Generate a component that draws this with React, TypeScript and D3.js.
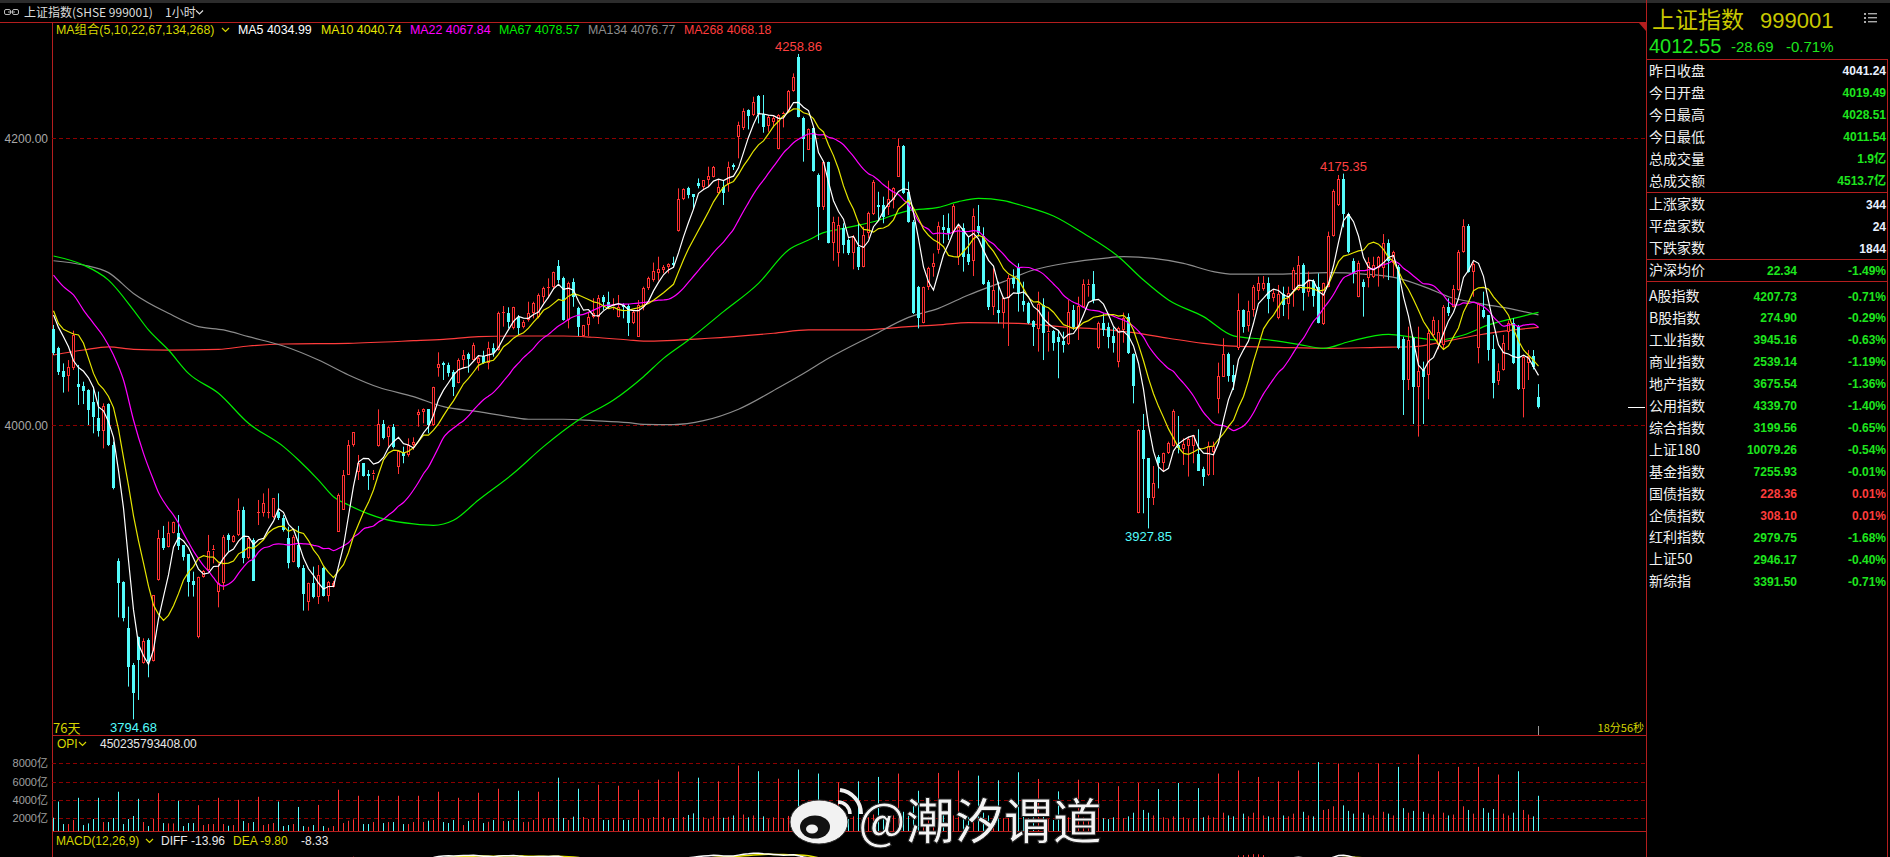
import React from 'react';
import * as d3 from 'd3';

// ---------- DATA ----------
const OPEN = [
4066.7,4053.5,4037.7,4034.2,4039.5,4028.6,4027.4,4024.4,4016.3,4005.1,
3996.0,4014.6,3986.0,3905.1,3890.7,3858.6,3832.6,3852.4,3833.8,3850.0,
3835.6,3891.9,3921.4,3915.1,3924.9,3924.9,3916.3,3909.8,3891.2,3851.9,
3894.2,3898.9,3912.3,3883.7,3889.6,3923.3,3918.6,3923.3,3940.7,3907.0,
3919.8,3938.4,3938.4,3938.4,3936.1,3939.5,3934.9,3921.0,3904.7,3916.3,
3900.0,3876.8,3889.6,3880.3,3900.0,3880.7,3887.2,3925.6,3940.7,3965.1,
3986.0,3967.4,3973.3,3965.8,3965.1,3985.4,4000.5,3991.9,3998.4,3970.9,
3981.4,3979.1,3986.0,4007.0,4008.8,4010.9,4000.0,4039.5,4043.0,4041.9,
4037.2,4029.5,4045.3,4049.5,4045.3,4043.0,4048.1,4043.5,4053.5,4052.3,
4077.9,4078.4,4067.4,4075.6,4068.1,4073.2,4078.4,4075.1,4089.5,4095.3,
4096.5,4110.9,4102.3,4073.2,4100.0,4081.4,4062.1,4069.8,4075.1,4075.6,
4089.1,4086.0,4082.5,4075.6,4083.7,4083.0,4070.9,4061.6,4082.0,4095.3,
4101.1,4105.8,4108.1,4110.4,4113.3,4135.5,4157.4,4165.1,4161.1,4169.0,
4165.8,4170.9,4173.2,4162.0,4166.2,4168.1,4181.4,4201.1,4206.9,4219.7,
4216.2,4229.5,4216.9,4208.6,4211.6,4192.3,4216.2,4218.6,4233.2,4256.9,
4213.9,4191.8,4206.9,4174.4,4152.3,4183.7,4127.2,4119.7,4137.2,4129.0,
4119.7,4124.4,4110.4,4133.7,4147.2,4153.5,4153.5,4152.3,4156.9,4173.2,
4194.6,4162.7,4141.8,4096.5,4071.4,4096.5,4110.4,4122.0,4138.3,4137.6,
4134.9,4117.4,4137.2,4119.3,4114.6,4138.8,4131.8,4100.0,4082.5,4080.2,
4077.9,4088.4,4102.3,4110.0,4086.7,4084.9,4072.8,4066.7,4083.7,4064.4,
4065.8,4061.6,4058.8,4056.5,4080.2,4068.6,4082.5,4097.0,4098.3,4053.5,
4070.9,4068.1,4062.1,4044.2,4066.3,4075.6,4049.5,3938.4,3996.5,3976.7,
3948.8,3977.9,3973.3,3980.2,3985.4,3986.0,3983.0,3985.4,3985.4,3979.8,
3969.1,3965.1,3981.4,4017.9,4033.7,4049.5,4034.9,4053.5,4080.2,4069.1,
4080.2,4093.7,4094.6,4098.8,4088.4,4074.4,4091.4,4084.4,4094.2,4094.2,
4111.6,4093.0,4100.7,4096.5,4070.4,4096.5,4131.8,4153.5,4171.4,4147.2,
4114.6,4089.5,4100.0,4102.3,4103.0,4109.3,4109.3,4127.2,4112.8,4110.4,
4059.8,4031.4,4060.5,4026.3,4038.4,4034.9,4062.8,4055.8,4055.8,4082.5,
4082.5,4094.2,4120.9,4138.8,4107.0,4053.5,4080.2,4076.7,4052.8,4030.9,
4038.4,4065.1,4070.9,4069.1,4024.9,4043.0,4048.1,4019.49];

const HIGH = [
4069.8,4054.6,4043.0,4045.3,4065.8,4041.9,4030.2,4024.9,4026.7,4023.3,
4015.1,4015.1,3988.4,3907.0,3891.0,3873.3,3834.0,3852.4,3851.2,3851.2,
3881.4,3926.8,3929.6,3932.6,3932.6,3937.2,3916.3,3909.8,3897.7,3894.2,
3898.8,3923.3,3916.3,3903.5,3923.3,3924.4,3923.3,3948.8,3943.0,3921.6,
3921.0,3947.7,3952.3,3955.8,3948.8,3952.3,3937.2,3929.1,3923.3,3929.6,
3902.3,3890.0,3901.2,3902.3,3901.2,3891.2,3891.2,3952.3,3968.6,3989.5,
3994.9,3979.1,3973.3,3968.6,3968.6,4010.9,4003.5,3999.3,4000.7,3982.6,
3984.9,3990.7,3991.4,4010.9,4011.6,4010.9,4026.7,4050.7,4044.2,4043.5,
4038.4,4046.5,4052.3,4050.5,4057.4,4048.8,4051.8,4058.1,4057.0,4079.1,
4083.0,4082.1,4082.5,4076.7,4073.2,4086.0,4086.0,4091.8,4096.5,4102.3,
4107.0,4115.1,4103.5,4100.0,4102.3,4082.5,4069.8,4079.1,4088.4,4090.7,
4090.7,4093.0,4088.4,4090.7,4084.9,4084.4,4080.2,4087.2,4096.5,4103.5,
4113.3,4117.4,4111.6,4112.8,4117.4,4165.1,4165.1,4166.2,4161.1,4172.0,
4170.9,4180.2,4180.7,4170.9,4170.9,4183.7,4182.5,4211.6,4220.9,4220.2,
4229.0,4230.2,4230.2,4216.2,4216.2,4216.9,4218.6,4233.7,4245.3,4258.86,
4215.1,4206.9,4208.1,4175.5,4183.7,4183.7,4145.3,4145.3,4140.7,4130.2,
4132.5,4140.7,4138.3,4148.8,4170.9,4162.7,4159.3,4170.4,4165.8,4200.0,
4195.3,4169.7,4143.0,4097.0,4096.5,4110.4,4119.7,4141.8,4146.5,4147.6,
4154.1,4139.5,4140.7,4131.8,4151.1,4153.5,4137.9,4101.1,4109.3,4100.0,
4089.5,4104.6,4108.6,4112.8,4100.0,4086.0,4073.2,4093.0,4088.4,4079.1,
4066.3,4066.3,4065.1,4087.2,4083.7,4089.5,4101.6,4101.6,4107.4,4072.1,
4077.9,4071.4,4068.1,4068.6,4078.4,4077.9,4050.0,3997.0,4007.7,3976.7,
3971.4,3979.1,3980.7,3988.4,4010.9,4006.3,3990.7,3991.9,3993.0,3997.0,
3970.9,3988.4,3988.4,4043.5,4060.5,4050.5,4041.9,4091.8,4080.7,4086.7,
4097.7,4103.5,4103.9,4103.0,4094.2,4097.7,4096.5,4096.5,4110.0,4117.9,
4112.8,4107.0,4101.6,4105.8,4099.3,4134.9,4164.4,4174.4,4175.35,4148.1,
4116.3,4114.6,4101.6,4117.0,4117.4,4117.9,4133.2,4129.5,4121.6,4111.6,
4061.6,4068.6,4061.2,4068.6,4044.2,4066.3,4075.6,4073.2,4083.7,4088.4,
4097.7,4122.1,4143.5,4140.2,4113.9,4085.3,4093.0,4076.7,4062.8,4043.0,
4062.8,4072.8,4074.4,4069.8,4048.8,4052.3,4052.3,4028.51];

const LOW = [
4048.8,4034.9,4022.6,4023.3,4038.4,4014.0,4014.6,4000.0,3994.2,3991.9,
3983.7,3985.3,3955.1,3865.8,3863.0,3817.5,3794.68,3808.2,3833.5,3824.0,
3835.0,3891.4,3912.8,3914.6,3924.4,3912.8,3905.4,3880.3,3880.3,3851.2,
3893.5,3898.4,3903.5,3872.8,3884.9,3911.6,3918.0,3922.6,3903.5,3906.3,
3891.4,3930.2,3936.1,3934.9,3934.9,3933.7,3925.6,3900.0,3904.2,3900.0,
3870.5,3870.5,3879.1,3875.1,3880.3,3876.8,3886.7,3925.6,3940.7,3965.1,
3984.9,3961.6,3964.0,3954.7,3961.6,3984.9,3990.0,3984.9,3983.7,3965.8,
3973.3,3977.9,3982.6,3998.8,4001.2,3994.2,3999.3,4033.7,4031.4,4033.7,
4020.2,4029.1,4039.5,4036.5,4044.9,4037.9,4042.6,4038.8,4047.7,4051.8,
4068.6,4067.4,4066.7,4062.8,4067.4,4072.1,4074.4,4074.4,4085.3,4088.4,
4094.2,4098.8,4072.8,4067.4,4082.5,4062.1,4061.6,4062.1,4074.4,4070.4,
4080.2,4081.4,4080.2,4075.1,4074.4,4062.1,4070.4,4061.6,4080.0,4094.2,
4100.0,4100.7,4105.8,4105.8,4110.4,4134.9,4156.9,4158.1,4150.5,4165.1,
4163.9,4166.2,4172.7,4161.6,4153.5,4162.7,4177.9,4186.0,4205.8,4206.2,
4215.5,4210.4,4203.9,4204.6,4207.6,4192.3,4207.6,4217.9,4232.5,4214.6,
4183.7,4191.8,4176.7,4129.0,4150.0,4126.7,4114.6,4110.4,4119.7,4118.6,
4108.6,4108.1,4110.0,4130.2,4146.5,4143.0,4140.7,4146.5,4151.1,4173.2,
4161.1,4141.1,4077.4,4067.4,4070.9,4094.2,4103.5,4119.5,4126.7,4129.0,
4133.7,4111.6,4107.0,4111.6,4103.9,4131.4,4097.7,4080.2,4076.7,4070.9,
4067.4,4055.1,4095.3,4079.1,4079.1,4070.4,4055.1,4051.2,4045.3,4051.2,
4051.8,4032.6,4050.5,4055.8,4066.3,4059.3,4082.1,4089.5,4084.9,4052.8,
4062.1,4053.5,4050.5,4040.2,4057.4,4049.5,4015.1,3938.4,3938.4,3927.85,
3944.2,3955.8,3967.4,3979.8,3984.9,3980.2,3972.1,3964.0,3973.3,3968.1,
3957.5,3964.4,3965.1,4008.1,4033.7,4030.2,4024.4,4052.3,4064.4,4065.1,
4075.6,4087.2,4093.7,4077.9,4086.0,4073.7,4076.0,4073.7,4082.5,4093.7,
4079.8,4089.5,4082.5,4070.9,4069.8,4096.0,4131.4,4152.8,4137.9,4119.7,
4098.8,4089.1,4075.6,4096.0,4102.5,4096.5,4102.3,4101.1,4103.5,4052.8,
4007.0,4024.4,4000.7,3991.9,4000.7,4017.9,4061.6,4052.8,4052.8,4076.0,
4082.1,4093.7,4120.2,4106.3,4089.5,4043.0,4074.4,4044.9,4018.6,4027.9,
4037.9,4052.3,4042.5,4024.4,4005.3,4031.4,4038.8,4011.54];

const CLOSE = [
4050.0,4037.2,4033.2,4040.7,4062.8,4026.7,4023.9,4010.5,4005.8,3996.0,
4013.3,3986.0,3955.8,3890.0,3865.1,3831.4,3812.8,3836.1,3849.6,3835.6,
3881.4,3921.0,3914.0,3924.9,3932.6,3915.6,3908.2,3890.7,3888.4,3894.2,
3898.4,3912.1,3913.3,3889.6,3922.1,3919.8,3922.6,3940.7,3907.0,3921.0,
3891.4,3939.5,3945.4,3939.5,3948.8,3934.9,3926.8,3903.5,3922.1,3901.2,
3882.1,3889.6,3880.3,3895.4,3880.7,3890.7,3889.6,3951.2,3965.1,3986.0,
3994.9,3973.3,3964.4,3964.4,3966.8,4000.5,3990.7,3998.8,3984.9,3982.1,
3978.4,3986.0,3988.4,4008.8,4010.9,4000.0,4026.3,4042.6,4041.9,4036.5,
4026.7,4045.3,4048.8,4045.8,4055.8,4046.5,4043.0,4053.5,4050.0,4077.9,
4079.1,4072.1,4082.1,4067.4,4072.1,4078.4,4085.3,4090.7,4095.3,4096.5,
4107.0,4101.1,4073.2,4099.3,4089.5,4068.6,4069.8,4075.6,4078.4,4088.4,
4086.0,4082.5,4083.7,4082.5,4082.5,4070.9,4079.1,4083.7,4095.3,4102.3,
4107.4,4108.6,4110.4,4112.3,4111.6,4157.4,4164.4,4160.4,4159.3,4166.7,
4170.9,4173.7,4180.2,4166.2,4161.6,4180.2,4179.7,4209.3,4219.2,4215.5,
4225.5,4216.9,4207.6,4215.1,4213.9,4216.2,4217.9,4233.2,4243.0,4215.1,
4199.3,4206.2,4177.4,4152.3,4183.7,4127.2,4141.8,4139.5,4125.6,4119.7,
4131.4,4110.4,4132.5,4147.6,4169.7,4152.3,4145.3,4157.4,4165.1,4194.6,
4161.6,4141.8,4077.9,4074.4,4096.0,4109.3,4113.3,4139.0,4136.0,4133.7,
4152.8,4138.3,4117.4,4113.9,4145.8,4133.7,4098.3,4082.5,4094.2,4077.9,
4088.4,4102.3,4098.3,4091.8,4083.7,4070.9,4068.1,4084.4,4063.9,4065.8,
4057.4,4058.1,4055.8,4079.1,4068.6,4083.0,4098.3,4098.3,4087.2,4071.4,
4066.3,4061.6,4057.0,4067.4,4074.4,4050.0,4027.2,3996.5,3976.1,3948.8,
3959.3,3973.3,3980.2,3987.2,4010.0,3983.7,3986.7,3990.0,3993.0,3968.1,
3964.0,3985.4,3985.4,4034.2,4049.5,4034.2,4030.2,4080.2,4068.1,4079.8,
4096.5,4099.3,4098.8,4087.7,4091.8,4091.4,4083.7,4092.3,4108.1,4111.6,
4092.3,4100.7,4090.0,4071.4,4098.8,4131.8,4163.4,4171.4,4147.2,4120.9,
4106.3,4113.3,4096.0,4113.9,4111.6,4117.4,4126.7,4114.6,4120.9,4053.5,
4031.4,4059.3,4026.7,4037.9,4033.7,4064.4,4073.2,4065.1,4082.5,4077.9,
4094.6,4120.9,4138.8,4107.0,4112.3,4084.9,4075.6,4052.3,4029.1,4037.9,
4057.4,4070.9,4043.0,4024.9,4047.2,4048.1,4040.2,4012.55];

// hourly turnover, 亿
const VOLUME = [
2050,3820,1360,1360,1800,4230,1250,1430,1910,4230,
1580,1580,2020,4890,1360,1910,2240,4120,1580,1140,
1910,4740,1470,1430,1430,3900,1140,1470,1470,3420,
1250,1360,1360,4230,1360,1170,1250,4010,1690,1470,
1580,4340,1250,1360,1470,3820,1140,1250,1360,3230,
1140,1060,1250,3450,1140,950,1140,5110,1470,1720,
1870,4450,1360,1360,1580,4450,1470,1580,1580,4450,
1360,1360,1580,4450,1580,1720,1800,4890,1580,1470,
1800,4230,1250,1690,1800,4780,1470,1610,1800,5220,
1690,1690,1800,5000,1580,1610,1800,4890,1910,2020,
2020,6430,2020,1800,2170,5220,2130,1910,2020,5660,
1800,1800,2020,5550,1800,1800,2020,5110,1910,1910,
2130,6210,2130,1910,2020,7100,2130,2350,2530,6430,
2100,1950,2200,6030,2050,2150,2300,7760,2400,2100,
2300,7135,2200,1900,2100,6320,2000,2250,2600,7320,
2900,2300,2500,6880,2600,2900,2400,5920,2100,1900,
2200,6030,2300,2100,2400,6510,2000,2100,2300,6880,
2700,2400,3300,5000,2500,2200,2300,6950,2400,2100,
2300,7210,2500,2100,2400,6650,2600,2300,2200,6140,
2000,2300,2100,7020,2200,2000,2100,6290,2200,1900,
1800,4930,1900,2100,1900,6210,2100,1800,2000,5850,
2000,1900,2100,5500,2000,2200,2600,5850,2900,2600,
2300,5180,2100,1900,2200,5850,2100,1900,2000,5290,
2100,2300,2100,6880,2600,2300,2200,7210,2500,2200,
2600,6510,2300,2200,2100,6030,2300,2200,2500,7210,
2700,2300,2200,8130,2900,3000,3300,7980,3400,2800,
2500,7020,2600,2400,2300,7980,2700,2500,2300,7610,
3100,2600,2800,8970,2700,2500,2400,7130,2600,2300,
2400,7610,3300,2900,2500,7610,3100,2600,3000,6770,
2500,2300,2600,7130,2900,2400,2200,4450];

// moving-average values read where the window reaches before the visible range
const MA5_LEAD = [4076.7, 4068.1, 4061.6, 4054.6];
const MA10_LEAD = [4079.7, 4070.9, 4066.7, 4065.1, 4063.5, 4062.8, 4057.0, 4046.5, 4036.0];
const MA22_LEAD: [number, number][] = [[0,4104.6],[2,4096.5],[4,4090.7],[6,4080.2],[8,4070.9],[10,4061.6],[12,4048.8],[14,4031.4],[16,4003.5],[18,3980.2],[20,3961.6]];
const MA67_PTS: [number, number][] = [[0,4117.9],[6,4111.6],[11,4101.1],[16,4080.2],[19,4066.3],[23,4052.3],[27,4036.0],[33,4022.1],[39,4001.2],[46,3984.9],[49,3975.6],[53,3961.6],[56,3950.0],[59,3944.2],[63,3938.0],[66,3934.5],[72,3931.0],[76,3930.0],[80,3933.5],[85,3947.7],[92,3966.3],[98,3984.9],[105,4003.5],[112,4017.4],[118,4033.7],[122,4046.5],[127,4059.3],[134,4079.1],[141,4098.8],[147,4122.1],[151,4129.0],[154,4134.2],[157,4136.5],[164,4141.8],[171,4149.5],[177,4151.8],[181,4155.8],[185,4158.1],[190,4156.5],[194,4152.8],[200,4145.8],[206,4133.7],[213,4117.4],[218,4101.1],[223,4087.2],[230,4075.6],[236,4062.2],[242,4059.8],[249,4056.3],[254,4053.5],[259,4058.1],[267,4063.2],[272,4061.2],[277,4059.3],[282,4062.8],[287,4069.8],[292,4074.4],[297,4078.57]];
const MA134_PTS: [number, number][] = [[0,4114.6],[6,4111.6],[11,4106.3],[16,4091.8],[23,4077.9],[29,4068.6],[34,4066.3],[39,4061.6],[46,4055.1],[53,4045.3],[59,4034.9],[65,4026.3],[72,4019.8],[78,4012.8],[85,4009.3],[92,4005.3],[95,4004.0],[102,4004.0],[108,4003.0],[115,4001.6],[118,4000.5],[124,4000.3],[130,4003.0],[137,4011.0],[145,4026.0],[150,4036.0],[155,4046.5],[164,4062.8],[171,4075.1],[177,4081.4],[183,4090.7],[190,4100.0],[196,4108.1],[203,4113.2],[210,4116.3],[214,4117.4],[220,4116.3],[226,4112.8],[232,4107.0],[236,4105.2],[245,4105.3],[255,4106.3],[262,4105.3],[269,4102.3],[275,4095.3],[279,4089.5],[285,4084.9],[292,4080.7],[297,4076.77]];
const MA268_PTS: [number, number][] = [[0,4048.8],[6,4052.3],[11,4054.5],[16,4052.8],[23,4052.3],[33,4052.8],[39,4055.1],[46,4056.5],[59,4057.0],[72,4058.8],[78,4059.8],[85,4061.6],[92,4062.1],[102,4062.1],[108,4061.2],[115,4059.3],[118,4058.5],[131,4060.5],[144,4064.0],[151,4066.3],[161,4066.3],[171,4068.6],[177,4069.8],[183,4071.4],[193,4070.9],[203,4068.1],[210,4066.7],[216,4064.4],[223,4060.5],[230,4057.0],[236,4055.0],[245,4054.2],[255,4053.5],[265,4054.2],[272,4054.6],[279,4058.8],[285,4062.8],[292,4066.3],[297,4068.18]];

const PRICE_TICKS = [4000, 4200];
const VOL_TICKS = [2000, 4000, 6000, 8000];
const MARK_HIGH = [149, 258];
const MARK_LOW = [16, 219];

const MA_LEGEND = [
  { t: 'MA5 4034.99', c: '#ffffff', x: 238 },
  { t: 'MA10 4040.74', c: '#e6e600', x: 321 },
  { t: 'MA22 4067.84', c: '#ff00ff', x: 410 },
  { t: 'MA67 4078.57', c: '#00ee00', x: 499 },
  { t: 'MA134 4076.77', c: '#8c8c8c', x: 588 },
  { t: 'MA268 4068.18', c: '#ff3c3c', x: 684 },
];

const QUOTE_LABELS = ['昨日收盘', '今日开盘', '今日最高', '今日最低', '总成交量', '总成交额'];
const QUOTE_VALUES = ['4041.24', '4019.49', '4028.51', '4011.54', '1.9亿', '4513.7亿'];
const BREADTH_LABELS = ['上涨家数', '平盘家数', '下跌家数'];
const BREADTH_VALUES = ['344', '24', '1844'];
const INDEX_NAMES = ['A股指数', 'B股指数', '工业指数', '商业指数', '地产指数', '公用指数', '综合指数', '上证180', '基金指数', '国债指数', '企债指数', '红利指数', '上证50', '新综指'];
const INDEX_VALUES = ['4207.73', '274.90', '3945.16', '2539.14', '3675.54', '4339.70', '3199.56', '10079.26', '7255.93', '228.36', '308.10', '2979.75', '2946.17', '3391.50'];
const INDEX_PCTS = ['-0.71%', '-0.29%', '-0.63%', '-1.19%', '-1.36%', '-1.40%', '-0.65%', '-0.54%', '-0.01%', '0.01%', '0.01%', '-1.68%', '-0.40%', '-0.71%'];

// ---------- STYLE ----------
const RED = '#ff3232';
const CYAN = '#54fcfc';
const FRAME = '#b41e1e';
const GRID = '#8c0000';
const YEL = '#d6d600';
const GREEN = '#1ee61e';
const FONT = '"Liberation Sans", Arial, "Noto Sans CJK SC", sans-serif';
const CJK = '"Noto Sans CJK SC", "Liberation Sans", sans-serif';

const N = CLOSE.length;
const X0 = 52, X1 = 1646;
const MAIN_TOP = 22, MAIN_BOT = 735, VOL_BOT = 831;

function movingAverage(n: number, lead: [number, number][]): [number, number][] {
  const out: [number, number][] = [...lead];
  for (let i = n - 1; i < N; i++) {
    out.push([i, d3.mean(CLOSE.slice(i - n + 1, i + 1)) as number]);
  }
  return out;
}
function ema(arr: number[], n: number): number[] {
  const k = 2 / (n + 1);
  const out: number[] = [];
  arr.forEach((v, i) => out.push(i === 0 ? v : v * k + out[i - 1] * (1 - k)));
  return out;
}

const Chevron = ({ x, y, c }: { x: number; y: number; c: string }) => (
  <path d={`M${x},${y} l3.5,3.5 l3.5,-3.5`} fill="none" stroke={c} strokeWidth={1.2} />
);

export default function App() {
  const x = d3.scaleLinear().domain([0, N - 1]).range([53.5, 53.5 + 5 * (N - 1)]);
  const y = d3.scaleLinear().domain([4000, 4200]).range([425, 138.3]);
  const yVol = d3.scaleLinear().domain([2000, 8000]).range([818.2, 763.3]);

  const ma5 = movingAverage(5, MA5_LEAD.map((v, i) => [i, v] as [number, number]));
  const ma10 = movingAverage(10, MA10_LEAD.map((v, i) => [i, v] as [number, number]));
  const ma22 = movingAverage(22, MA22_LEAD);

  const lineLin = d3.line<[number, number]>().x(d => x(d[0])).y(d => y(d[1]));
  const lineSmooth = d3.line<[number, number]>().x(d => x(d[0])).y(d => y(d[1])).curve(d3.curveMonotoneX);

  const e12 = ema(CLOSE, 12), e26 = ema(CLOSE, 26);
  const diff = CLOSE.map((_, i) => e12[i] - e26[i]);
  const dea = ema(diff, 9);
  const hist = diff.map((d, i) => 2 * (d - dea[i]));
  const yM = d3.scaleLinear().domain([22, 42]).range([857, 848]);
  const lineM = d3.line<number>().x((_, i) => x(i)).y(d => yM(d));

  const candles = CLOSE.map((c, i) => {
    const o = OPEN[i], h = HIGH[i], l = LOW[i];
    const cx = x(i);
    const up = c >= o;
    const top = Math.round(y(Math.max(o, c)));
    const bot = Math.round(y(Math.min(o, c)));
    const yh = y(h), yl = y(l);
    if (up) {
      const hgt = Math.max(bot - top, 1);
      return (
        <g key={i} stroke={RED} strokeWidth={1} fill="none">
          <line x1={cx} x2={cx} y1={yh} y2={top} />
          <line x1={cx} x2={cx} y1={top + hgt} y2={yl} />
          {hgt > 2 ? (
            <rect x={cx - 1} y={top + 0.5} width={2} height={hgt - 1} fill="#000" />
          ) : (
            <line x1={cx - 1.5} x2={cx + 1.5} y1={top + 0.5} y2={top + 0.5} />
          )}
        </g>
      );
    }
    return (
      <g key={i}>
        <line x1={cx} x2={cx} y1={yh} y2={yl} stroke={CYAN} strokeWidth={1} />
        <rect x={cx - 1.5} y={top} width={3} height={Math.max(bot - top, 1)} fill={CYAN} />
      </g>
    );
  });

  const textBase = { fontFamily: FONT };

  return (
    <svg width={1890} height={857} style={{ position: 'absolute', left: 0, top: 0, display: 'block', background: '#000' }}>
      <defs>
        <clipPath id="mainClip"><rect x={X0} y={MAIN_TOP + 1} width={X1 - X0} height={MAIN_BOT - MAIN_TOP - 1} /></clipPath>
        <clipPath id="macdClip"><rect x={X0} y={846} width={X1 - X0} height={11} /></clipPath>
      </defs>
      <rect width={1890} height={857} fill="#000" />
      <rect width={1890} height={3} fill="#2c2c2c" />

      {/* title bar */}
      <g stroke="#bbb" fill="none" strokeWidth={1}>
        <rect x={4.5} y={9.5} width={6} height={5} rx={1.5} />
        <rect x={12.5} y={9.5} width={6} height={5} rx={1.5} />
        <line x1={8} x2={15} y1={12} y2={12} />
      </g>
      <text x={24} y={16.5} fontSize={12} fill="#dcdcdc" fontFamily={CJK}>上证指数(SHSE 999001)</text>
      <text x={165} y={16.5} fontSize={12} fill="#dcdcdc" fontFamily={CJK}>1小时</text>
      <Chevron x={196} y={10.5} c="#dcdcdc" />

      {/* frame */}
      <line x1={0} x2={X1} y1={MAIN_TOP + 0.5} y2={MAIN_TOP + 0.5} stroke={FRAME} />
      <line x1={X0 + 0.5} x2={X0 + 0.5} y1={MAIN_TOP} y2={857} stroke={FRAME} />
      <line x1={X1 + 0.5} x2={X1 + 0.5} y1={0} y2={857} stroke={FRAME} />
      <line x1={X0} x2={X1} y1={MAIN_BOT + 0.5} y2={MAIN_BOT + 0.5} stroke={FRAME} />
      <line x1={X0} x2={X1} y1={VOL_BOT + 0.5} y2={VOL_BOT + 0.5} stroke={FRAME} />
      <polygon points="1639,23 1646,23 1646,31" fill={FRAME} />

      {/* price grid */}
      {PRICE_TICKS.map(t => (
        <g key={t}>
          <line x1={X0} x2={X1} y1={Math.round(y(t)) + 0.5} y2={Math.round(y(t)) + 0.5} stroke={GRID} strokeDasharray="4 3" />
          <text x={48} y={y(t) + 4.5} fontSize={12} fill="#a8a8a8" textAnchor="end" {...textBase}>{d3.format('.2f')(t)}</text>
        </g>
      ))}

      {/* MA legend */}
      <text x={56} y={34} fontSize={12.4} fill={YEL} fontFamily={FONT}>MA组合(5,10,22,67,134,268)</text>
      <Chevron x={222} y={28} c={YEL} />
      {MA_LEGEND.map(m => (
        <text key={m.t} x={m.x} y={34} fontSize={12.4} fill={m.c} {...textBase}>{m.t}</text>
      ))}

      {/* candles + MA lines */}
      <g clipPath="url(#mainClip)">
        <path d={lineSmooth(MA268_PTS) || ''} fill="none" stroke="#ff3c3c" strokeWidth={1.2} />
        <path d={lineSmooth(MA134_PTS) || ''} fill="none" stroke="#8c8c8c" strokeWidth={1.2} />
        <path d={lineSmooth(MA67_PTS) || ''} fill="none" stroke="#00ee00" strokeWidth={1.2} />
        {candles}
        <path d={lineSmooth(ma22) || ''} fill="none" stroke="#ff00ff" strokeWidth={1.2} />
        <path d={lineLin(ma10) || ''} fill="none" stroke="#e6e600" strokeWidth={1.2} />
        <path d={lineLin(ma5) || ''} fill="none" stroke="#ffffff" strokeWidth={1.2} />
      </g>

      {/* extreme labels */}
      {MARK_HIGH.map(i => (
        <text key={'h' + i} x={x(i)} y={y(HIGH[i]) - 3} fontSize={13} fill="#ff4040" textAnchor="middle" {...textBase}>{d3.format('.2f')(HIGH[i])}</text>
      ))}
      {MARK_LOW.map(i => (
        <text key={'l' + i} x={x(i)} y={y(LOW[i]) + 13} fontSize={13} fill={CYAN} textAnchor="middle" {...textBase}>{d3.format('.2f')(LOW[i])}</text>
      ))}
      <text x={53} y={733} fontSize={13} fill={YEL} fontFamily={CJK}>76天</text>
      <text x={1644} y={732} fontSize={11} fill={YEL} textAnchor="end" fontFamily={CJK}>18分56秒</text>
      <line x1={x(N - 1)} x2={x(N - 1)} y1={726} y2={735} stroke="#999" />
      <line x1={1628} x2={1645} y1={Math.round(y(CLOSE[N - 1])) + 0.5} y2={Math.round(y(CLOSE[N - 1])) + 0.5} stroke="#fff" />

      {/* volume panel */}
      <text x={57} y={748} fontSize={12} fill={YEL} {...textBase}>OPI</text>
      <Chevron x={79} y={742} c={YEL} />
      <text x={100} y={748} fontSize={12} fill="#e8e8e8" {...textBase}>450235793408.00</text>
      {VOL_TICKS.map(t => (
        <g key={t}>
          <line x1={X0} x2={X1} y1={Math.round(yVol(t)) + 0.5} y2={Math.round(yVol(t)) + 0.5} stroke={GRID} strokeDasharray="4 3" />
          <text x={48} y={yVol(t) + 4} fontSize={11} fill="#a0a0a0" textAnchor="end" fontFamily={FONT}>{t}亿</text>
        </g>
      ))}
      {VOLUME.map((v, i) => (
        <line key={i} x1={x(i)} x2={x(i)} y1={VOL_BOT} y2={yVol(v)} stroke={CLOSE[i] >= OPEN[i] ? RED : CYAN} strokeWidth={1} />
      ))}

      {/* MACD panel */}
      <text x={56} y={845} fontSize={12} fill={YEL} {...textBase}>MACD(12,26,9)</text>
      <Chevron x={146} y={839} c={YEL} />
      <text x={161} y={845} fontSize={12} fill="#e8e8e8" {...textBase}>DIFF -13.96</text>
      <text x={233} y={845} fontSize={12} fill={YEL} {...textBase}>DEA -9.80</text>
      <text x={301} y={845} fontSize={12} fill="#e8e8e8" {...textBase}>-8.33</text>
      <g clipPath="url(#macdClip)">
        {hist.map((h, i) => (
          <line key={i} x1={x(i)} x2={x(i)} y1={yM(0)} y2={yM(h)} stroke={h >= 0 ? RED : CYAN} />
        ))}
        <path d={lineM(dea) || ''} fill="none" stroke="#e6e600" strokeWidth={1.5} />
        <path d={lineM(diff) || ''} fill="none" stroke="#ffffff" strokeWidth={1.5} />
      </g>

      {/* watermark */}
      <g>
        <ellipse cx={819} cy={822} rx={29} ry={22} fill="#f2f2f2" stroke="#333" strokeWidth={1} />
        <ellipse cx={815} cy={827} rx={15} ry={11.5} fill="#111" />
        <ellipse cx={812} cy={829} rx={6} ry={4.5} fill="#f2f2f2" />
        <path d="M838,802 a12,12 0 0 1 12,12" fill="none" stroke="#f2f2f2" strokeWidth={3.5} />
        <path d="M840,790 a24,24 0 0 1 21,24" fill="none" stroke="#f2f2f2" strokeWidth={4} />
        <text x={858} y={839} fontSize={49} fill="#f4f4f4" stroke="#222" strokeWidth={1} fontFamily={CJK} fontWeight={500}>@潮汐谓道</text>
      </g>

      {/* right panel */}
      <text x={1652} y={28} fontSize={23} fill="#c8c800" fontFamily={CJK}>上证指数</text>
      <text x={1760} y={28} fontSize={22} fill="#c8c800" fontFamily={FONT}>999001</text>
      <g fill="#aaa">
        {[0, 1, 2].map(k => (
          <g key={k}>
            <rect x={1864} y={13 + k * 4} width={2} height={2} />
            <rect x={1868} y={13 + k * 4} width={9} height={1.4} />
          </g>
        ))}
      </g>
      <text x={1649} y={53} fontSize={20} fill={GREEN} fontFamily={FONT}>4012.55</text>
      <text x={1731} y={52} fontSize={15} fill={GREEN} fontFamily={FONT}>-28.69</text>
      <text x={1786} y={52} fontSize={15} fill={GREEN} fontFamily={FONT}>-0.71%</text>

      <g stroke={FRAME}>
        <line x1={X1} x2={1887.5} y1={59.5} y2={59.5} />
        <line x1={X1} x2={1887.5} y1={192.5} y2={192.5} />
        <line x1={X1} x2={1887.5} y1={259.5} y2={259.5} />
        <line x1={X1} x2={1887.5} y1={281.5} y2={281.5} />
        <line x1={1887.5} x2={1887.5} y1={59} y2={857} />
      </g>
      {QUOTE_LABELS.map((l, k) => (
        <g key={l}>
          <text x={1649} y={75.5 + 22 * k} fontSize={14} fill="#f0f0f0" fontFamily={CJK}>{l}</text>
          <text x={1886} y={75 + 22 * k} fontSize={12} fontWeight="bold" fill={k === 0 ? '#e8f0ff' : GREEN} textAnchor="end" fontFamily={FONT}>{QUOTE_VALUES[k]}</text>
        </g>
      ))}
      {BREADTH_LABELS.map((l, k) => (
        <g key={l}>
          <text x={1649} y={209 + 22 * k} fontSize={14} fill="#f0f0f0" fontFamily={CJK}>{l}</text>
          <text x={1886} y={208.5 + 22 * k} fontSize={12} fontWeight="bold" fill="#e8f0ff" textAnchor="end" fontFamily={FONT}>{BREADTH_VALUES[k]}</text>
        </g>
      ))}
      <text x={1649} y={275} fontSize={14} fill="#f0f0f0" fontFamily={CJK}>沪深均价</text>
      <text x={1797} y={274.5} fontSize={12} fontWeight="bold" fill={GREEN} textAnchor="end" fontFamily={FONT}>22.34</text>
      <text x={1886} y={274.5} fontSize={12} fontWeight="bold" fill={GREEN} textAnchor="end" fontFamily={FONT}>-1.49%</text>
      {INDEX_NAMES.map((l, k) => {
        const c = INDEX_PCTS[k].startsWith('-') ? GREEN : '#ff3c3c';
        return (
          <g key={l}>
            <text x={1649} y={301 + 21.95 * k} fontSize={14} fill="#f0f0f0" fontFamily={CJK}>{l}</text>
            <text x={1797} y={300.5 + 21.95 * k} fontSize={12} fontWeight="bold" fill={c} textAnchor="end" fontFamily={FONT}>{INDEX_VALUES[k]}</text>
            <text x={1886} y={300.5 + 21.95 * k} fontSize={12} fontWeight="bold" fill={c} textAnchor="end" fontFamily={FONT}>{INDEX_PCTS[k]}</text>
          </g>
        );
      })}
    </svg>
  );
}
